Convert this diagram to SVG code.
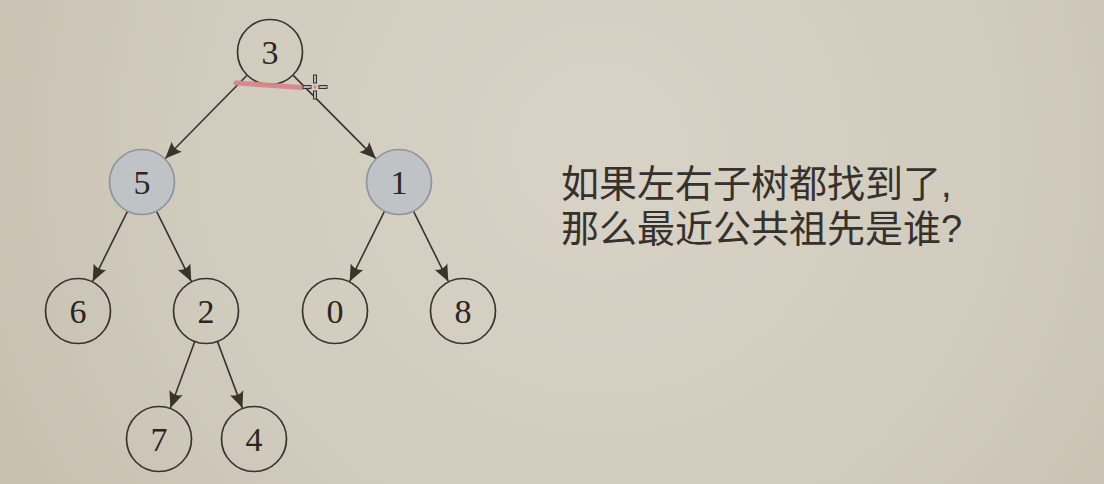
<svg xmlns="http://www.w3.org/2000/svg" width="1104" height="484" viewBox="0 0 1104 484">
  <defs>
    <radialGradient id="bg" cx="600" cy="150" r="700" gradientUnits="userSpaceOnUse">
      <stop offset="0" stop-color="#d8d3c6"/>
      <stop offset="0.6" stop-color="#d1cbbd"/>
      <stop offset="1" stop-color="#c6bfb0"/>
    </radialGradient>
    <marker id="arrow" markerUnits="userSpaceOnUse" markerWidth="20" markerHeight="20" viewBox="-15 -8 17 16" refX="0" refY="0" orient="auto">
      <path d="M0,0 L-14,-6 Q-10,0 -14,6 Z" fill="#3a332d"/>
    </marker>
    <style>
      .node circle { fill: none; stroke: #3a332d; stroke-width: 1.7; }
      .node.hl circle { fill: #c0c3c6; stroke: #8d949d; stroke-width: 1.7; }
      .node text { font-family: "Liberation Serif", "DejaVu Serif", serif; font-size: 34px; fill: #2a2622; text-anchor: middle; }
      .edges line { stroke: #3a332d; stroke-width: 1.6; marker-end: url(#arrow); }
      .label { font-family: "Liberation Sans", "Noto Sans CJK SC", sans-serif; font-size: 38px; fill: #35312c; }
    </style>
  </defs>
  <rect x="0" y="0" width="1104" height="484" fill="url(#bg)"/>

  <g class="edges" id="connectors">
    <line x1="246.8" y1="75.5" x2="165.2" y2="158.5"/>
    <line x1="293.2" y1="75.4" x2="375.8" y2="158.6"/>
    <line x1="127.3" y1="211.6" x2="92.7" y2="281.4"/>
    <line x1="156.7" y1="211.6" x2="191.3" y2="281.4"/>
    <line x1="194.6" y1="342.0" x2="170.4" y2="408.0"/>
    <line x1="217.6" y1="341.9" x2="242.4" y2="408.1"/>
    <line x1="384.3" y1="211.6" x2="349.7" y2="281.4"/>
    <line x1="413.7" y1="211.6" x2="448.3" y2="281.4"/>
  </g>

  <g class="node" id="node-3"><circle cx="270" cy="52" r="32.5"/><text x="270" y="64">3</text></g>
  <g class="node hl" id="node-5"><circle cx="142" cy="182" r="32.5"/><text x="142" y="194">5</text></g>
  <g class="node hl" id="node-1"><circle cx="399" cy="182" r="32.5"/><text x="399" y="194">1</text></g>
  <g class="node" id="node-6"><circle cx="78" cy="311" r="32.5"/><text x="78" y="323">6</text></g>
  <g class="node" id="node-2"><circle cx="206" cy="311" r="32.5"/><text x="206" y="323">2</text></g>
  <g class="node" id="node-0"><circle cx="335" cy="311" r="32.5"/><text x="335" y="323">0</text></g>
  <g class="node" id="node-8"><circle cx="463" cy="311" r="32.5"/><text x="463" y="323">8</text></g>
  <g class="node" id="node-7"><circle cx="159" cy="439" r="32.5"/><text x="159" y="451">7</text></g>
  <g class="node" id="node-4"><circle cx="254" cy="439" r="32.5"/><text x="254" y="451">4</text></g>

  <g id="highlight">
    <line x1="236" y1="83" x2="302" y2="87.5" stroke="#d9868c" stroke-width="5" stroke-linecap="round" opacity="0.95"/>
  </g>

  <g id="cursor" fill="#b8b8b8" stroke="#333" stroke-width="1">
    <rect x="313.5" y="75" width="3" height="8"/>
    <rect x="313.5" y="91" width="3" height="8"/>
    <rect x="303" y="85.5" width="8" height="3"/>
    <rect x="319" y="85.5" width="8" height="3"/>
    <rect x="313.5" y="85.5" width="3" height="3" fill="#d08a8e" stroke="none"/>
  </g>

  <g id="question">
    <text class="label" x="561" y="196.5">如果左右子树都找到了,</text>
    <text class="label" x="561" y="241.5">那么最近公共祖先是谁?</text>
  </g>
</svg>
